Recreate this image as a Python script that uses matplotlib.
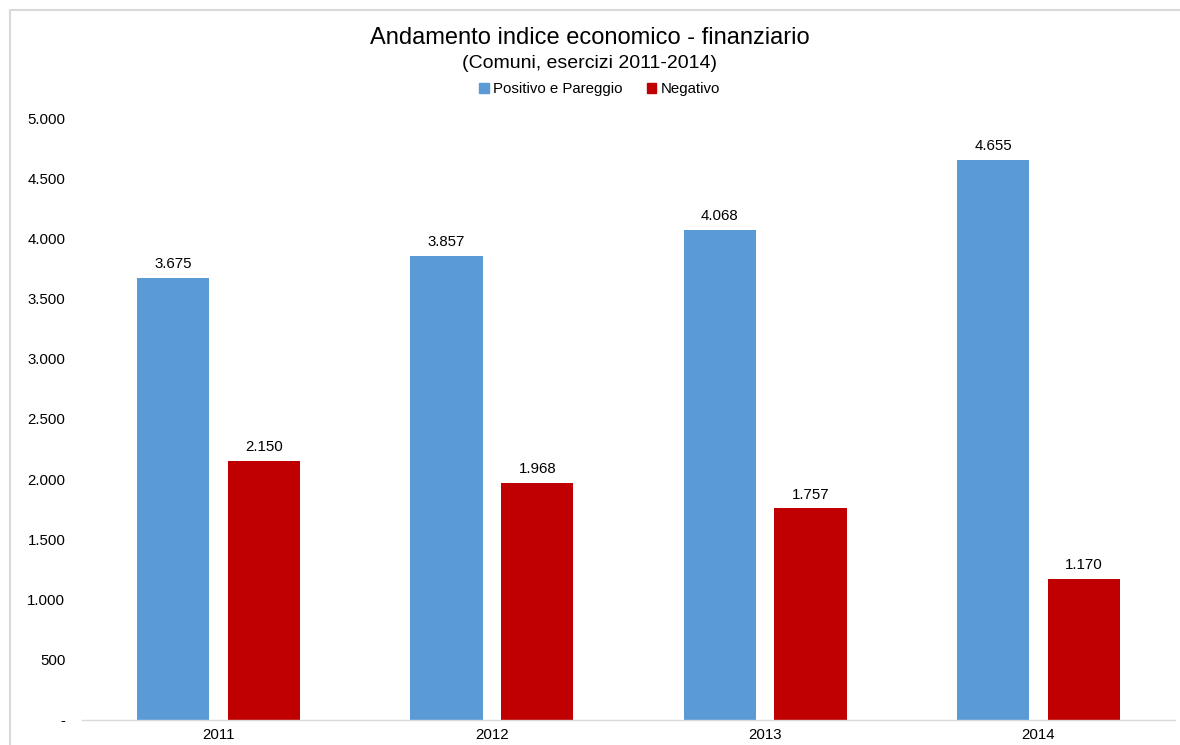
import matplotlib
matplotlib.use("Agg")
import matplotlib.pyplot as plt
import numpy as np
from matplotlib.patches import Rectangle, Patch

categories = ["2011", "2012", "2013", "2014"]
positivo = [3675, 3857, 4068, 4655]
negativo = [2150, 1968, 1757, 1170]
series_names = ["Positivo e Pareggio", "Negativo"]
yticks = [0, 500, 1000, 1500, 2000, 2500, 3000, 3500, 4000, 4500, 5000]

plt.rcParams['font.family'] = ['Liberation Sans', 'DejaVu Sans']

def fmt(v):
    if v == 0:
        return "-"
    return f"{v:,}".replace(",", ".")

fig = plt.figure(figsize=(11.8, 7.45), dpi=100)
fig.patches.append(Rectangle((10/1180, -0.1), 1.2, (745-10)/745 + 0.1, transform=fig.transFigure,
                             fill=False, edgecolor='#d9d9d9', linewidth=1.5))

ax = fig.add_axes([82/1180, 25/745, 1093/1180, 602/745])
x = np.arange(len(categories))
w = 0.265
off = 0.166
b1 = ax.bar(x - off, positivo, w, color='#5B9BD5', label=series_names[0])
b2 = ax.bar(x + off, negativo, w, color='#C00000', label=series_names[1])

for bars, vals in ((b1, positivo), (b2, negativo)):
    for r, v in zip(bars, vals):
        ax.annotate(fmt(v), (r.get_x() + r.get_width()/2, v), xytext=(0, 5),
                    textcoords='offset points', ha='center', va='bottom', fontsize=10.8)

ax.set_xlim(-0.5, 3.5)
ax.set_ylim(0, 5000)
ax.set_yticks(yticks)
ax.set_yticklabels([fmt(v) for v in yticks], fontsize=10.8)
ax.set_xticks(x)
ax.set_xticklabels(categories, fontsize=10.8)
ax.tick_params(axis='y', length=0, pad=12)
ax.tick_params(axis='x', length=0, pad=6)
for s in ['top', 'right', 'left']:
    ax.spines[s].set_visible(False)
ax.spines['bottom'].set_color('#d9d9d9')
ax.spines['bottom'].set_linewidth(1)

fig.text(0.5, 1 - 44/745, "Andamento indice economico - finanziario", ha='center', va='baseline', fontsize=17)
fig.text(0.5, 1 - 68/745, "(Comuni, esercizi 2011-2014)", ha='center', va='baseline', fontsize=14)
handles = [Patch(color='#5B9BD5'), Patch(color='#C00000')]
fig.legend(handles, series_names, loc='center', bbox_to_anchor=(0.508, 1 - 89/745), ncol=2,
           frameon=False, fontsize=10.8, handlelength=0.65, handleheight=0.65, handletextpad=0.3,
           columnspacing=1.6)

fig.savefig("out.png", dpi=100)
